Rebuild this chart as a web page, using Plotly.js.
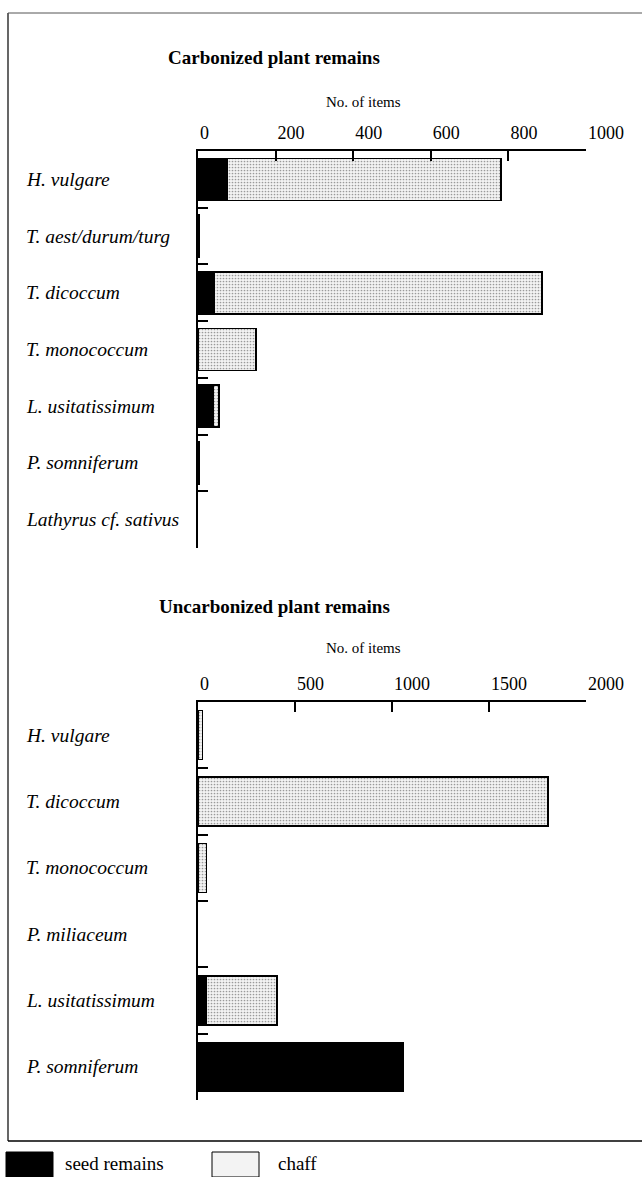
<!DOCTYPE html>
<html>
<head>
<meta charset="utf-8">
<script src="https://cdn.plot.ly/plotly-3.0.1.min.js"></script>
<style>html,body{margin:0;padding:0;background:#fff;}#chart{width:642px;height:1177px;}</style>
</head>
<body>
<div id="chart"></div>
<script>
// ---- Data ----
const carbCategories = ['H. vulgare', 'T. aest/durum/turg', 'T. dicoccum', 'T. monococcum', 'L. usitatissimum', 'P. somniferum', 'Lathyrus cf. sativus'];
const carbSeed  = [75, 4, 42, 0, 39, 3, 0];
const carbChaff = [706, 0, 845, 150, 15, 0, 0];

const uncarbCategories = ['H. vulgare', 'T. dicoccum', 'T. monococcum', 'P. miliaceum', 'L. usitatissimum', 'P. somniferum'];
const uncarbSeed  = [0, 0, 0, 0, 41, 1060];
const uncarbChaff = [22, 1804, 45, 0, 367, 0];

const carbTicks = [0, 200, 400, 600, 800, 1000];
const uncarbTicks = [0, 500, 1000, 1500, 2000];

const titles = ['Carbonized plant remains', 'Uncarbonized plant remains'];
const axisLabel = 'No. of items';
const legendLabels = ['seed remains', 'chaff'];

// ---- Page geometry (pixels) ----
const W = 642, H = 1177;
const px = v => v / W;
const py = v => 1 - v / H;

const serif = 'Liberation Serif, Times New Roman, serif';
const lineW = vals => vals.map(v => (v > 0 ? 1.5 : 0));
const seedMarker = vals => ({color: '#000', line: {color: '#000', width: lineW(vals)}});
const chaffMarker = vals => ({
  color: '#ececec',
  line: {color: '#000', width: lineW(vals)},
  pattern: {shape: '.', fgcolor: '#9a9a9a', bgcolor: '#f3f3f3', size: 3, solidity: 0.25}
});

const traces = [
  {type: 'bar', orientation: 'h', name: legendLabels[0], y: carbCategories, x: carbSeed, xaxis: 'x', yaxis: 'y', marker: seedMarker(carbSeed), showlegend: false},
  {type: 'bar', orientation: 'h', name: legendLabels[1], y: carbCategories, x: carbChaff, xaxis: 'x', yaxis: 'y', marker: chaffMarker(carbChaff), showlegend: false},
  {type: 'bar', orientation: 'h', name: legendLabels[0], y: uncarbCategories, x: uncarbSeed, xaxis: 'x2', yaxis: 'y2', marker: seedMarker(uncarbSeed), showlegend: false},
  {type: 'bar', orientation: 'h', name: legendLabels[1], y: uncarbCategories, x: uncarbChaff, xaxis: 'x2', yaxis: 'y2', marker: chaffMarker(uncarbChaff), showlegend: false}
];

const xCommon = {
  side: 'top', showline: true, linecolor: '#000', linewidth: 2,
  ticks: 'inside', ticklen: 10, tickwidth: 2, tickcolor: '#000',
  ticklabelposition: 'outside right', ticklabelstandoff: 3,
  showgrid: false, zeroline: false, fixedrange: true,
  tickfont: {family: serif, size: 18, color: '#000'},
  tickmode: 'array'
};
const yCommon = {
  type: 'category', showline: true, linecolor: '#000', linewidth: 2,
  ticks: 'inside', ticklen: 10, tickwidth: 2, tickcolor: '#000',
  tickson: 'boundaries', showticklabels: false, showgrid: false, zeroline: false, fixedrange: true
};

const xDom = [px(198), px(586)];

const layout = {
  width: W, height: H,
  margin: {l: 0, r: 0, t: 0, b: 0},
  paper_bgcolor: '#fff', plot_bgcolor: '#fff',
  barmode: 'stack', bargap: 0.26,
  showlegend: false,
  xaxis: Object.assign({}, xCommon, {domain: xDom, anchor: 'y', range: [0, 1000], tickvals: carbTicks, ticktext: carbTicks.map(String)}),
  yaxis: Object.assign({}, yCommon, {domain: [py(548), py(151)], anchor: 'x', categoryarray: carbCategories, range: [carbCategories.length - 0.5, -0.5]}),
  xaxis2: Object.assign({}, xCommon, {domain: xDom, anchor: 'y2', range: [0, 2000], tickvals: uncarbTicks, ticktext: uncarbTicks.map(String)}),
  yaxis2: Object.assign({}, yCommon, {domain: [py(1100), py(702)], anchor: 'x2', categoryarray: uncarbCategories, range: [uncarbCategories.length - 0.5, -0.5]}),
  annotations: [],
  shapes: []
};

// Category labels (left aligned, italic)
const catFont = {family: serif, size: 19.5, color: '#000'};
carbCategories.forEach(c => layout.annotations.push({
  xref: 'paper', yref: 'y', x: px(24), y: c, xanchor: 'left', yanchor: 'middle',
  text: '<i>' + c + '</i>', showarrow: false, font: catFont
}));
uncarbCategories.forEach(c => layout.annotations.push({
  xref: 'paper', yref: 'y2', x: px(24), y: c, xanchor: 'left', yanchor: 'middle',
  text: '<i>' + c + '</i>', showarrow: false, font: catFont
}));

// Titles and axis labels
[[titles[0], 58, 102], [titles[1], 606, 648]].forEach(([t, ty, ay]) => {
  layout.annotations.push({xref: 'paper', yref: 'paper', x: px(274), y: py(ty), xanchor: 'center', yanchor: 'middle',
    text: '<b>' + t + '</b>', showarrow: false, font: {family: serif, size: 19, color: '#000'}});
  layout.annotations.push({xref: 'paper', yref: 'paper', x: px(364), y: py(ay), xanchor: 'center', yanchor: 'middle',
    text: axisLabel, showarrow: false, font: {family: serif, size: 15, color: '#000'}});
});

// Frame (left, top, bottom)
layout.shapes.push({type: 'line', xref: 'paper', yref: 'paper', x0: px(8), x1: px(8), y0: py(13), y1: py(1141), line: {color: '#000', width: 1.2}});
layout.shapes.push({type: 'line', xref: 'paper', yref: 'paper', x0: px(8), x1: 1, y0: py(13), y1: py(13), line: {color: '#555', width: 1}});
layout.shapes.push({type: 'line', xref: 'paper', yref: 'paper', x0: px(8), x1: 1, y0: py(1141), y1: py(1141), line: {color: '#000', width: 1.5}});

// Legend swatches
layout.shapes.push({type: 'rect', xref: 'paper', yref: 'paper', x0: px(6), x1: px(53), y0: py(1152), y1: py(1177), fillcolor: '#000', line: {color: '#000', width: 1}});
layout.shapes.push({type: 'rect', xref: 'paper', yref: 'paper', x0: px(212), x1: px(259), y0: py(1152), y1: py(1177), fillcolor: '#f3f3f3', line: {color: '#000', width: 1}});
layout.annotations.push({xref: 'paper', yref: 'paper', x: px(63), y: py(1163), xanchor: 'left', yanchor: 'middle',
  text: legendLabels[0], showarrow: false, font: {family: serif, size: 19, color: '#000'}});
layout.annotations.push({xref: 'paper', yref: 'paper', x: px(276), y: py(1163), xanchor: 'left', yanchor: 'middle',
  text: legendLabels[1], showarrow: false, font: {family: serif, size: 19, color: '#000'}});

Plotly.newPlot('chart', traces, layout, {displayModeBar: false, staticPlot: true});
</script>
</body>
</html>
